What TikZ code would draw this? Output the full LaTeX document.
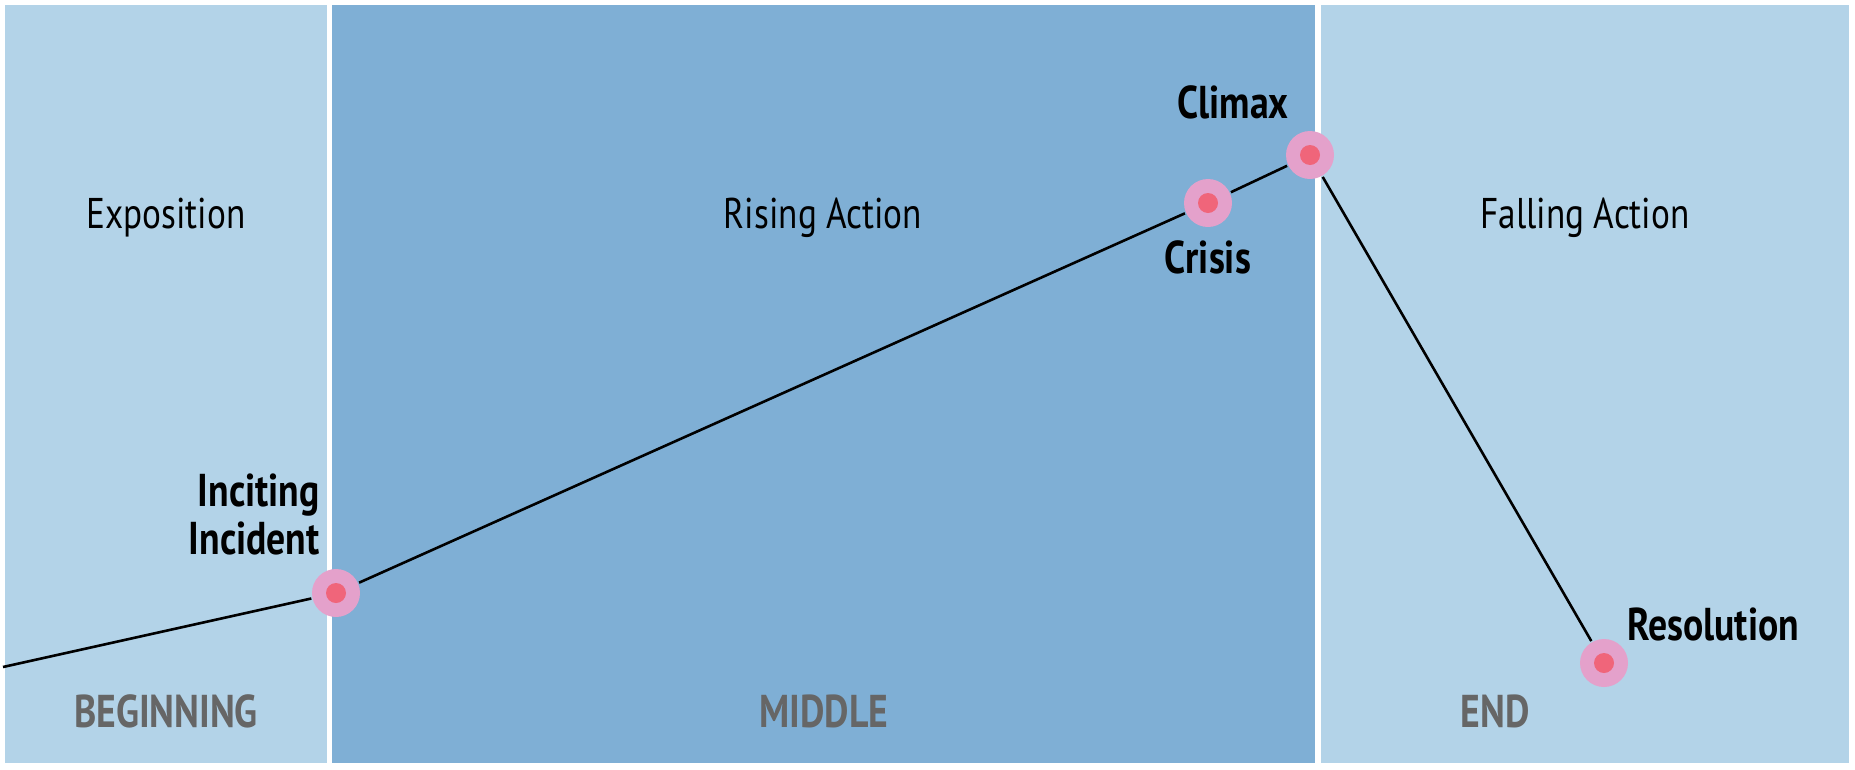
\documentclass[tikz,border=0pt]{standalone}
\usepackage{fontspec}
\setmainfont{PT Sans}[FakeStretch=0.82]
\usetikzlibrary{positioning}
\definecolor{paleblue}{HTML}{B3D3E8}
\definecolor{midblue}{HTML}{7FAFD5}
\definecolor{dotpink}{HTML}{E4A1CB}
\definecolor{dotred}{HTML}{F0657A}
\definecolor{partgray}{HTML}{666666}

\begin{document}
\begin{tikzpicture}[
    x=1pt,
    y=-1pt,
    line width=2.6pt
]

\tikzstyle{event}=[
    circle,
    fill=dotpink,
    minimum size=48pt,
    inner sep=0pt,
    path picture={\fill[dotred] (path picture bounding box.center) circle (10pt);}
]
\tikzstyle{phase}=[font=\fontsize{43}{48}\selectfont, anchor=base]
\tikzstyle{turn}=[font=\fontsize{46}{48}\selectfont\bfseries, inner sep=0pt]
\tikzstyle{part}=[font=\fontsize{46}{48}\selectfont\bfseries, text=partgray, anchor=base]

\useasboundingbox (0,0) rectangle (1855,769);

% the three parts
\fill[paleblue] (5,5) rectangle (327,763);
\fill[midblue] (332,5) rectangle (1315,763);
\fill[paleblue] (1321,5) rectangle (1849,763);

\node[phase] (expo) at (166,228) {Exposition};
\node[phase] (rise) at (823,228) {Rising Action};
\node[phase] (fall) at (1585,228) {Falling Action};

\node[part] (beg) at (166,727) {BEGINNING};
\node[part] (mid) at (824,727) {MIDDLE};
\node[part] (end) at (1495,727) {END};

% plot line
\coordinate (start) at (3,667);
\node[event] (inc) at (336,593) {};
\node[event] (cris) at (1208,203) {};
\node[event] (clim) at (1310,155) {};
\node[event] (res) at (1604,663) {};

\draw (start) -- (inc) -- (cris) -- (clim) -- (res);

\node[turn, align=right, anchor=south east] at (321,556) {Inciting\\Incident};
\node[turn, anchor=base] at (1233,118) {Climax};
\node[turn, anchor=base] at (1208,273) {Crisis};
\node[turn, anchor=base west] at (1626,640) {Resolution};

\end{tikzpicture}
\end{document}
